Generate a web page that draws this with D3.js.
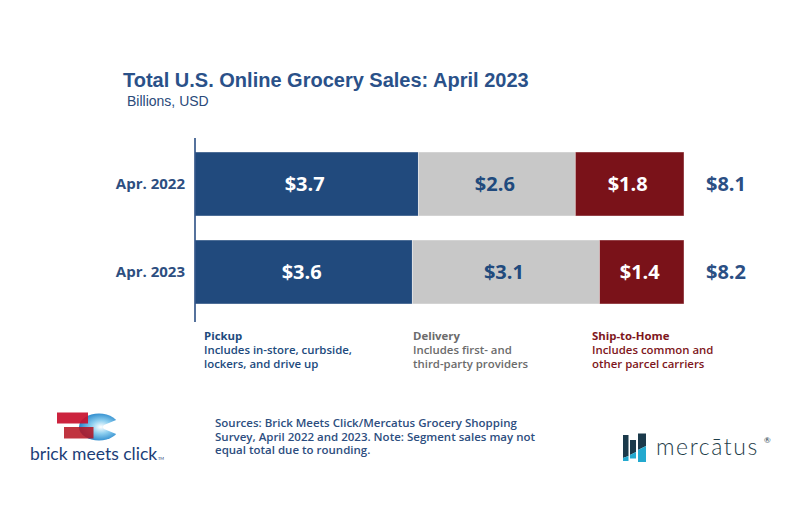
<!DOCTYPE html>
<html>
<head>
<meta charset="utf-8">
<script src="https://cdn.jsdelivr.net/npm/d3@7"></script>
<style>
  html, body { margin: 0; padding: 0; background: #fff; }
  svg { display: block; }
</style>
</head>
<body>
<svg id="chart" width="800" height="528"></svg>
<script>
const periods = ['Apr. 2022', 'Apr. 2023'];
const segments = ['pickup', 'delivery', 'ship'];
const pickupSales = [3.7, 3.6];
const deliverySales = [2.6, 3.1];
const shipSales = [1.8, 1.4];
const totalSales = [8.1, 8.2];

const legendTitles = ['Pickup', 'Delivery', 'Ship-to-Home'];
const legendLines = [
  ['Includes in-store, curbside,', 'lockers, and drive up'],
  ['Includes first- and', 'third-party providers'],
  ['Includes common and', 'other parcel carriers'],
];
const sourceLines = [
  'Sources: Brick Meets Click/Mercatus Grocery Shopping',
  'Survey, April 2022 and 2023. Note: Segment sales may not',
  'equal total due to rounding.',
];

const fills = { pickup: '#214a7d', delivery: '#c8c8c8', ship: '#7a1219' };
const labelFills = { pickup: '#ffffff', delivery: '#214a7d', ship: '#ffffff' };
const legendColors = ['#214a7d', '#6b6b6b', '#7e1620'];
const navy = '#2b4f84';
const sansBold = "'Open Sans', 'Noto Sans', sans-serif";

const rows = periods.map((p, i) => ({
  period: p,
  pickup: pickupSales[i],
  delivery: deliverySales[i],
  ship: shipSales[i],
  total: totalSales[i],
}));

const svg = d3.select('#chart');

const x = d3.scaleLinear().domain([0, 8.1]).range([195, 684]);
const y = d3
  .scaleBand()
  .domain(periods)
  .range([140, 316])
  .paddingInner(0.2727)
  .paddingOuter(0.1364);

const stacked = d3.stack().keys(segments)(rows);

// title block
svg
  .append('text')
  .attr('x', 123)
  .attr('y', 87)
  .style('font-family', "'Liberation Sans', Arial, sans-serif")
  .style('font-weight', 700)
  .style('font-size', '20px')
  .style('fill', '#2a5189')
  .text('Total U.S. Online Grocery Sales: April 2023');

svg
  .append('text')
  .attr('x', 127)
  .attr('y', 106)
  .style('font-family', "'Liberation Sans', Arial, sans-serif")
  .style('font-size', '14px')
  .style('fill', '#2a4a7a')
  .text('Billions, USD');

// bars
const layer = svg
  .selectAll('g.layer')
  .data(stacked)
  .enter()
  .append('g')
  .attr('class', 'layer')
  .style('fill', d => fills[d.key]);

layer
  .selectAll('rect')
  .data(d => d)
  .enter()
  .append('rect')
  .attr('x', d => x(d[0]))
  .attr('y', d => y(d.data.period))
  .attr('width', d => x(d[1]) - x(d[0]))
  .attr('height', y.bandwidth())
  .style('stroke', '#ffffff')
  .style('stroke-opacity', 0.5)
  .style('stroke-width', 0.8);

layer
  .selectAll('text')
  .data(d => d.map(v => ({ key: d.key, v })))
  .enter()
  .append('text')
  .attr('x', d => (x(d.v[0]) + x(d.v[1])) / 2 - 2)
  .attr('y', d => y(d.v.data.period) + y.bandwidth() / 2)
  .attr('dy', '0.36em')
  .attr('text-anchor', 'middle')
  .style('font-family', sansBold)
  .style('font-weight', 700)
  .style('font-size', '20px')
  .style('fill', d => labelFills[d.key])
  .text(d => `$${d3.format('.1f')(d.v.data[d.key])}`);

// totals
svg
  .selectAll('text.total')
  .data(rows)
  .enter()
  .append('text')
  .attr('class', 'total')
  .attr('x', 706)
  .attr('y', d => y(d.period) + y.bandwidth() / 2)
  .attr('dy', '0.36em')
  .style('font-family', sansBold)
  .style('font-weight', 700)
  .style('font-size', '20px')
  .style('fill', navy)
  .text(d => `$${d3.format('.1f')(d.total)}`);

// category axis
const yAxis = svg
  .append('g')
  .attr('transform', 'translate(195,0)')
  .call(d3.axisLeft(y).tickSize(0).tickPadding(10));

yAxis.select('.domain').attr('d', 'M0,138V322').style('stroke', navy).style('stroke-width', 1.6);
yAxis
  .selectAll('text')
  .style('font-family', sansBold)
  .style('font-weight', 700)
  .style('font-size', '15px')
  .style('fill', '#2d4e80');

// legend
const legendX = [204, 413, 592];
const legend = svg
  .selectAll('g.legend')
  .data(legendTitles)
  .enter()
  .append('g')
  .attr('class', 'legend')
  .attr('transform', (d, i) => `translate(${legendX[i]},340)`)
  .style('font-family', sansBold)
  .style('font-size', '11.4px')
  .style('fill', (d, i) => legendColors[i]);

legend
  .append('text')
  .style('font-weight', 700)
  .text(d => d);

legend
  .selectAll('text.line')
  .data((d, i) => legendLines[i])
  .enter()
  .append('text')
  .attr('class', 'line')
  .attr('y', (d, i) => 14.2 * (i + 1))
  .style('font-weight', 600)
  .text(d => d);

// sources note
svg
  .append('g')
  .selectAll('text')
  .data(sourceLines)
  .enter()
  .append('text')
  .attr('x', 215)
  .attr('y', (d, i) => 427 + i * 13.5)
  .style('font-family', sansBold)
  .style('font-weight', 600)
  .style('font-size', '11.5px')
  .style('fill', '#2d4e80')
  .text(d => d);

// brick meets click logo
const defs = svg.append('defs');
const grad = defs
  .append('radialGradient')
  .attr('id', 'bmcBlue')
  .attr('cx', '0.55')
  .attr('cy', '0.5')
  .attr('r', '0.6');
grad.append('stop').attr('offset', '0%').attr('stop-color', '#ffffff');
grad.append('stop').attr('offset', '40%').attr('stop-color', '#8fd0f0');
grad.append('stop').attr('offset', '100%').attr('stop-color', '#1479c4');

const bmc = svg.append('g').attr('class', 'bmc');
bmc
  .append('ellipse')
  .attr('cx', 99)
  .attr('cy', 427)
  .attr('rx', 20)
  .attr('ry', 13.5)
  .style('fill', 'url(#bmcBlue)');
bmc
  .append('path')
  .attr('d', 'M121,418 L104,425 Q102,427 104,429 L121,436 Z')
  .style('fill', '#ffffff');
bmc
  .append('rect')
  .attr('x', 57)
  .attr('y', 412.5)
  .attr('width', 31)
  .attr('height', 11)
  .style('fill', '#c8102e')
  .style('opacity', 0.92);
bmc
  .append('rect')
  .attr('x', 64)
  .attr('y', 427)
  .attr('width', 29.5)
  .attr('height', 11.5)
  .style('fill', '#b5101f')
  .style('opacity', 0.85);
bmc
  .append('text')
  .attr('x', 30)
  .attr('y', 460)
  .style('font-family', "Lato, 'DejaVu Sans', sans-serif")
  .style('font-size', '17.5px')
  .style('fill', '#1c3e78')
  .text('brick meets click');
bmc
  .append('text')
  .attr('x', 158)
  .attr('y', 460)
  .style('font-family', "Lato, sans-serif")
  .style('font-size', '4px')
  .style('fill', '#1c3e78')
  .text('TM');

// mercatus logo
const merc = svg.append('g').attr('class', 'mercatus');
const barsDark = [
  'M623,435 H628.5 V456 L623,458 Z',
  'M630,440 H636 V452 L630,455 Z',
  'M638,433.5 H646 V446 L638,450 Z',
];
const barsLight = [
  'M623,458 L628.5,456 V461 H623 Z',
  'M630,455 L636,452 V458.5 H630 Z',
  'M638,450 L646,446 V462 H638 Z',
];
merc
  .selectAll('path.dark')
  .data(barsDark)
  .enter()
  .append('path')
  .attr('class', 'dark')
  .attr('d', d => d)
  .style('fill', '#1b3a4b');
merc
  .selectAll('path.light')
  .data(barsLight)
  .enter()
  .append('path')
  .attr('class', 'light')
  .attr('d', d => d)
  .style('fill', '#23a9cf');
merc
  .append('text')
  .attr('x', 656)
  .attr('y', 455)
  .style('font-family', "Lato, sans-serif")
  .style('font-weight', 300)
  .style('font-size', '23px')
  .style('letter-spacing', '1.6px')
  .style('fill', '#1e3d4a')
  .text('mercātus');
merc
  .append('text')
  .attr('x', 764)
  .attr('y', 443)
  .style('font-family', "Lato, sans-serif")
  .style('font-size', '8px')
  .style('fill', '#1e3d4a')
  .text('®');
</script>
</body>
</html>
